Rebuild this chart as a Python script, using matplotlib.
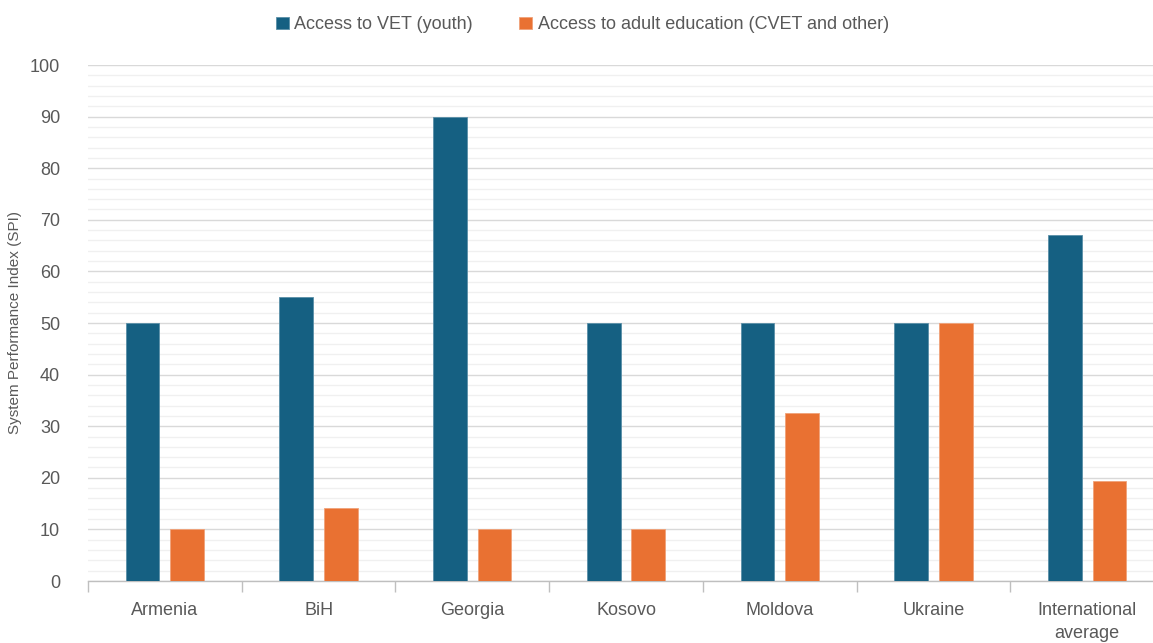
import matplotlib.pyplot as plt
import numpy as np
from matplotlib import font_manager
from matplotlib.ticker import MultipleLocator, FixedLocator, NullFormatter

# data
countries = ["Armenia", "BiH", "Georgia", "Kosovo", "Moldova", "Ukraine", "International\naverage"]
vet_youth = [50, 55, 90, 50, 50, 50, 67]
adult_edu = [10, 14.2, 10, 10, 32.5, 50, 19.4]

blue = "#156082"
orange = "#E97132"
text_col = "#595959"

names = {f.name for f in font_manager.fontManager.ttflist}
font = "Liberation Sans Narrow" if "Liberation Sans Narrow" in names else "Liberation Sans"
plt.rcParams["font.family"] = [font, "DejaVu Sans"]

fig = plt.figure(figsize=(11.53, 6.43), dpi=100)
ax = fig.add_axes([88 / 1153, 1 - 581 / 643, 1076 / 1153, 516 / 643])

x = np.arange(len(countries))
w = 0.22
off = 0.145
ax.bar(x - off, vet_youth, w, color=blue, edgecolor="#5a8fa8", linewidth=0.6,
       label="Access to VET (youth)", zorder=3)
ax.bar(x + off, adult_edu, w, color=orange, edgecolor="#f0a27a", linewidth=0.6,
       label="Access to adult education (CVET and other)", zorder=3)

ax.set_xlim(-0.5, len(countries) - 0.5)
ax.set_ylim(0, 100)
ax.yaxis.set_major_locator(MultipleLocator(10))
ax.yaxis.set_minor_locator(MultipleLocator(2))
ax.grid(axis="y", which="major", color="#D9D9D9", linewidth=1.0, zorder=0)
ax.grid(axis="y", which="minor", color="#F0F0F0", linewidth=1.0, zorder=0)
ax.tick_params(axis="y", which="both", length=0, labelsize=13, labelcolor=text_col, pad=20)

# category ticks at the boundaries, labels at the centres
ax.xaxis.set_major_locator(FixedLocator(x))
ax.set_xticklabels(countries, fontsize=13, color=text_col, linespacing=1.5)
ax.xaxis.set_minor_locator(FixedLocator(np.arange(-0.5, len(countries), 1)))
ax.xaxis.set_minor_formatter(NullFormatter())
ax.tick_params(axis="x", which="major", length=0, pad=15)
ax.tick_params(axis="x", which="minor", length=8, color="#BFBFBF", width=1)

for s in ["top", "right", "left"]:
    ax.spines[s].set_visible(False)
ax.spines["bottom"].set_color("#BFBFBF")
ax.spines["bottom"].set_linewidth(1)

ax.set_ylabel("System Performance Index (SPI)", fontsize=11, color=text_col, labelpad=6)

fig.legend(loc="upper center", bbox_to_anchor=(0.505, 1.0), ncol=2, frameon=False,
           fontsize=13, labelcolor=text_col, handlelength=0.7, handleheight=0.7,
           handletextpad=0.3, columnspacing=2.6)

fig.savefig("out.png", dpi=100)
